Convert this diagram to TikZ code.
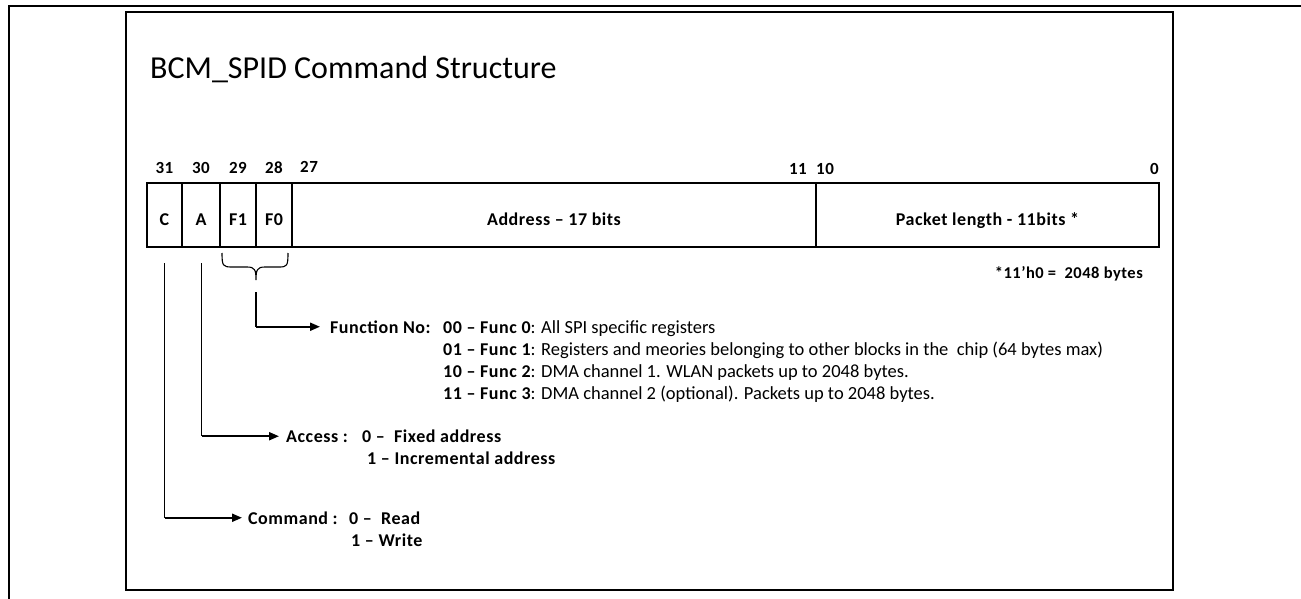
\documentclass[tikz,border=0pt]{standalone}
\usepackage{fontspec}
\setmainfont{Carlito}[BoldFeatures={LetterSpace=3}]
\usetikzlibrary{arrows.meta}
\begin{document}
\begin{tikzpicture}[x=1pt,y=-1pt,
  cell/.style={draw, line width=1.2pt, minimum height=64pt, inner sep=0pt,
    text height=20pt, text depth=0pt, font=\fontsize{18}{20}\selectfont\bfseries},
  bitlbl/.style={inner sep=0pt, anchor=base, font=\fontsize{17}{20}\selectfont\bfseries},
  txt/.style={inner sep=0pt, anchor=base west, font=\fontsize{18.5}{22}\selectfont},
  btxt/.style={txt, font=\fontsize{18}{22}\selectfont\bfseries},
  stem/.style={line width=1.3pt},
  arr/.style={line width=2pt, -{Triangle[length=10pt,width=8pt]}},
  frame/.style={line width=1.6pt},
]
\useasboundingbox (0,0) rectangle (1301,599);
% outer and inner frames
\draw[line width=2.2pt] (1301,6) -- (9,6) -- (9,599);
\draw[frame] (126,12) rectangle (1173,590);

% title
\node[txt, font=\fontsize{32}{38}\selectfont] (title) at (150,79) {BCM\_SPID Command Structure};

% register cells
\node[cell, minimum width=35pt]  (C)   at (164.5,215) {C};
\node[cell, minimum width=38pt]  (A)   at (201,215)   {A};
\node[cell, minimum width=36pt]  (F1)  at (238,215)   {F1};
\node[cell, minimum width=36pt]  (F0)  at (274,215)   {F0};
\node[cell, minimum width=524pt] (adr) at (554,215)   {Address – 17 bits};
\node[cell, minimum width=343pt] (pkt) at (987.5,215) {Packet length - 11bits *};

% bit numbers
\node[bitlbl] (b31) at (164.5,174) {31};
\node[bitlbl] (b30) at (201,174) {30};
\node[bitlbl] (b29) at (238,174) {29};
\node[bitlbl] (b28) at (274,174) {28};
\node[bitlbl, anchor=base west] (b27) at (300,172) {27};
\node[bitlbl, anchor=base east] (b11) at (807,175) {11};
\node[bitlbl, anchor=base west] (b10) at (816,175) {10};
\node[bitlbl, anchor=base east] (b0)  at (1159,175) {0};

% footnote
\node[btxt, anchor=base east, font=\fontsize{16.5}{20}\selectfont\bfseries] (note) at (1143,278) {*11’h0 =\ \ 2048 bytes};

% brace under F1/F0
\coordinate (brL) at (222,253);
\coordinate (brR) at (288,253);
\coordinate (brTip) at (256,280);
\draw[line width=1.1pt] (brL) .. controls (222,266) and (223,267) .. (232,267)
  -- (247,267) .. controls (255,267) and (256,270) .. (brTip)
  .. controls (256,270) and (257,267) .. (265,267)
  -- (279,267) .. controls (287,267) and (288,266) .. (brR);

% function text
\node[btxt] (fn) at (330,333) {Function No:};
\node[txt] (f0) at (443,333) {{\fontsize{18}{22}\selectfont\bfseries 00 – Func 0}: All SPI specific registers};
\node[txt] (f1) at (443,355) {{\fontsize{18}{22}\selectfont\bfseries 01 – Func 1}: Registers and meories belonging to other blocks in the\ \ chip (64 bytes max)};
\node[txt] (f2) at (443,377) {{\fontsize{18}{22}\selectfont\bfseries 10 – Func 2}: DMA channel 1. WLAN packets up to 2048 bytes.};
\node[txt] (f3) at (443,399) {{\fontsize{18}{22}\selectfont\bfseries 11 – Func 3}: DMA channel 2 (optional). Packets up to 2048 bytes.};

% access text
\node[btxt] (acc)  at (286,442) {Access :};
\node[btxt] (acc0) at (362,442) {0 –\ \ Fixed address};
\node[btxt] (acc1) at (367,464) {1 – Incremental address};

% command text
\node[btxt] (cmd)  at (248,524) {Command :};
\node[btxt] (cmd0) at (349,524) {0 –\ \ Read};
\node[btxt] (cmd1) at (351,546) {1 – Write};

% connectors
\coordinate (fnTop) at (256,292);
\coordinate (fnCorner) at (fnTop |- fn.west);
\draw[stem] (fnTop) -- (fnCorner);
\draw[arr, shorten >=10pt] (fnCorner) -- (fn.west);

\coordinate (aTop) at (201.5,263);
\coordinate (aCorner) at (aTop |- acc.west);
\draw[stem] (aTop) -- (aCorner);
\draw[arr, shorten >=7pt] (aCorner) -- (acc.west);

\coordinate (cTop) at (164.5,263);
\coordinate (cCorner) at (cTop |- cmd.west);
\draw[stem] (cTop) -- (cCorner);
\draw[arr, shorten >=6pt] (cCorner) -- (cmd.west);
\end{tikzpicture}
\end{document}
